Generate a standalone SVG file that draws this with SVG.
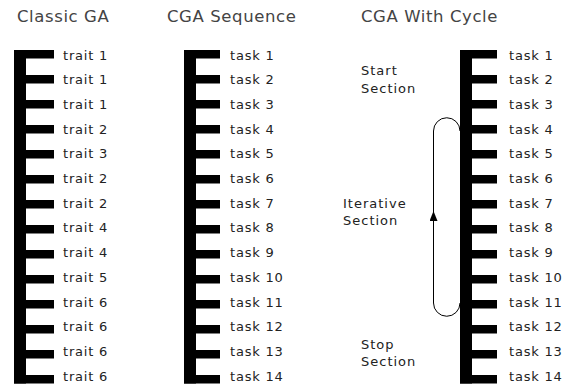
<svg xmlns="http://www.w3.org/2000/svg" width="574" height="385" viewBox="0 0 574 385">
<defs>
<style>
.bar{fill:#000}
.title{font-family:"DejaVu Sans","Liberation Sans",sans-serif;font-size:16.5px;letter-spacing:0.6px;fill:#444}
.lbl{font-family:"DejaVu Sans","Liberation Sans",sans-serif;font-size:13px;letter-spacing:0.8px;fill:#222}
.sec{font-family:"DejaVu Sans","Liberation Sans",sans-serif;font-size:13px;letter-spacing:1px;fill:#222}
.loop{fill:none;stroke:#000;stroke-width:1}
</style>
<marker id="arr" markerUnits="userSpaceOnUse" viewBox="0 0 10 8" refX="10" refY="4" markerWidth="10" markerHeight="8" orient="auto">
<path d="M0,0 L10,4 L0,8 z" fill="#000"/>
</marker>
</defs>
<rect width="574" height="385" fill="#fff"/>

<g id="titles">
<text class="title" x="17" y="22">Classic GA</text>
<text class="title" x="167" y="22">CGA Sequence</text>
<text class="title" x="361" y="22">CGA With Cycle</text>
</g>

<g id="classic-ga">
<rect class="bar" x="14" y="50" width="12" height="333.5"/>
<rect class="bar" x="14" y="50" width="40" height="8.5"/>
<rect class="bar" x="14" y="75" width="40" height="8.5"/>
<rect class="bar" x="14" y="100" width="40" height="8.5"/>
<rect class="bar" x="14" y="125" width="40" height="8.5"/>
<rect class="bar" x="14" y="150" width="40" height="8.5"/>
<rect class="bar" x="14" y="175" width="40" height="8.5"/>
<rect class="bar" x="14" y="200" width="40" height="8.5"/>
<rect class="bar" x="14" y="225" width="40" height="8.5"/>
<rect class="bar" x="14" y="250" width="40" height="8.5"/>
<rect class="bar" x="14" y="275" width="40" height="8.5"/>
<rect class="bar" x="14" y="300" width="40" height="8.5"/>
<rect class="bar" x="14" y="325" width="40" height="8.5"/>
<rect class="bar" x="14" y="350" width="40" height="8.5"/>
<rect class="bar" x="14" y="375" width="40" height="8.5"/>
<text class="lbl" x="63" y="59.5">trait 1</text>
<text class="lbl" x="63" y="84.2">trait 1</text>
<text class="lbl" x="63" y="108.9">trait 1</text>
<text class="lbl" x="63" y="133.6">trait 2</text>
<text class="lbl" x="63" y="158.3">trait 3</text>
<text class="lbl" x="63" y="183">trait 2</text>
<text class="lbl" x="63" y="207.7">trait 2</text>
<text class="lbl" x="63" y="232.4">trait 4</text>
<text class="lbl" x="63" y="257.1">trait 4</text>
<text class="lbl" x="63" y="281.8">trait 5</text>
<text class="lbl" x="63" y="306.5">trait 6</text>
<text class="lbl" x="63" y="331.2">trait 6</text>
<text class="lbl" x="63" y="355.9">trait 6</text>
<text class="lbl" x="63" y="380.6">trait 6</text>
</g>

<g id="cga-sequence">
<rect class="bar" x="184" y="50" width="12" height="333.5"/>
<rect class="bar" x="184" y="50" width="36" height="8.5"/>
<rect class="bar" x="184" y="75" width="36" height="8.5"/>
<rect class="bar" x="184" y="100" width="36" height="8.5"/>
<rect class="bar" x="184" y="125" width="36" height="8.5"/>
<rect class="bar" x="184" y="150" width="36" height="8.5"/>
<rect class="bar" x="184" y="175" width="36" height="8.5"/>
<rect class="bar" x="184" y="200" width="36" height="8.5"/>
<rect class="bar" x="184" y="225" width="36" height="8.5"/>
<rect class="bar" x="184" y="250" width="36" height="8.5"/>
<rect class="bar" x="184" y="275" width="36" height="8.5"/>
<rect class="bar" x="184" y="300" width="36" height="8.5"/>
<rect class="bar" x="184" y="325" width="36" height="8.5"/>
<rect class="bar" x="184" y="350" width="36" height="8.5"/>
<rect class="bar" x="184" y="375" width="36" height="8.5"/>
<text class="lbl" x="230" y="59.5">task 1</text>
<text class="lbl" x="230" y="84.2">task 2</text>
<text class="lbl" x="230" y="108.9">task 3</text>
<text class="lbl" x="230" y="133.6">task 4</text>
<text class="lbl" x="230" y="158.3">task 5</text>
<text class="lbl" x="230" y="183">task 6</text>
<text class="lbl" x="230" y="207.7">task 7</text>
<text class="lbl" x="230" y="232.4">task 8</text>
<text class="lbl" x="230" y="257.1">task 9</text>
<text class="lbl" x="230" y="281.8">task 10</text>
<text class="lbl" x="230" y="306.5">task 11</text>
<text class="lbl" x="230" y="331.2">task 12</text>
<text class="lbl" x="230" y="355.9">task 13</text>
<text class="lbl" x="230" y="380.6">task 14</text>
</g>

<g id="cga-cycle">
<rect class="bar" x="460" y="50" width="12" height="333.5"/>
<rect class="bar" x="460" y="50" width="37" height="8.5"/>
<rect class="bar" x="460" y="75" width="37" height="8.5"/>
<rect class="bar" x="460" y="100" width="37" height="8.5"/>
<rect class="bar" x="460" y="125" width="37" height="8.5"/>
<rect class="bar" x="460" y="150" width="37" height="8.5"/>
<rect class="bar" x="460" y="175" width="37" height="8.5"/>
<rect class="bar" x="460" y="200" width="37" height="8.5"/>
<rect class="bar" x="460" y="225" width="37" height="8.5"/>
<rect class="bar" x="460" y="250" width="37" height="8.5"/>
<rect class="bar" x="460" y="275" width="37" height="8.5"/>
<rect class="bar" x="460" y="300" width="37" height="8.5"/>
<rect class="bar" x="460" y="325" width="37" height="8.5"/>
<rect class="bar" x="460" y="350" width="37" height="8.5"/>
<rect class="bar" x="460" y="375" width="37" height="8.5"/>
<text class="lbl" x="509" y="59.5">task 1</text>
<text class="lbl" x="509" y="84.2">task 2</text>
<text class="lbl" x="509" y="108.9">task 3</text>
<text class="lbl" x="509" y="133.6">task 4</text>
<text class="lbl" x="509" y="158.3">task 5</text>
<text class="lbl" x="509" y="183">task 6</text>
<text class="lbl" x="509" y="207.7">task 7</text>
<text class="lbl" x="509" y="232.4">task 8</text>
<text class="lbl" x="509" y="257.1">task 9</text>
<text class="lbl" x="509" y="281.8">task 10</text>
<text class="lbl" x="509" y="306.5">task 11</text>
<text class="lbl" x="509" y="331.2">task 12</text>
<text class="lbl" x="509" y="355.9">task 13</text>
<text class="lbl" x="509" y="380.6">task 14</text>
</g>

<g id="section-labels">
<text class="sec" x="361" y="75">Start</text>
<text class="sec" x="361" y="93">Section</text>
<text class="sec" x="343" y="208">Iterative</text>
<text class="sec" x="343" y="225">Section</text>
<text class="sec" x="361" y="349">Stop</text>
<text class="sec" x="361" y="366">Section</text>
</g>

<g id="connectors">
<path class="loop" d="M460,303 A13,13 0 0 1 433.5,303 V211" marker-end="url(#arr)"/>
<path class="loop" d="M433.5,212 V131 A13,13 0 0 1 460,131"/>
</g>
</svg>
